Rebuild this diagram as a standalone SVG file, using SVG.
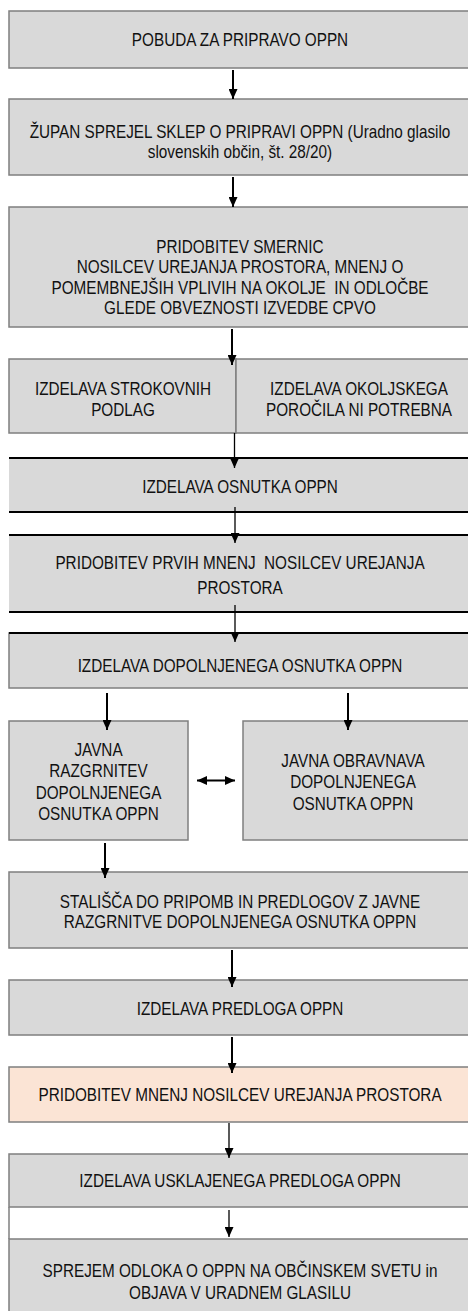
<svg xmlns="http://www.w3.org/2000/svg" width="468" height="1311" viewBox="0 0 468 1311">
<style>
.b{fill:#D9D9D9;stroke:#7F7F7F;stroke-width:1.5}
.p{fill:#FBE4D5;stroke:#7F7F7F;stroke-width:1.5}
.f{fill:#D9D9D9;stroke:none}
.k{stroke:#000;stroke-width:2.2}
.g{stroke:#7F7F7F;stroke-width:1.5}
.t{font-family:"Liberation Sans",Arial,sans-serif;font-size:18px;fill:#111;text-anchor:middle}
.c{stroke:#000;stroke-width:2;fill:none;marker-end:url(#ah)}
.c1{stroke:#000;stroke-width:1.3;fill:none;marker-end:url(#ah)}
</style>
<defs>
<marker id="ah" markerUnits="userSpaceOnUse" markerWidth="10" markerHeight="9" refX="10" refY="4.5" orient="auto-start-reverse">
<path d="M0,0 L10,4.5 L0,9 z" fill="#000"/>
</marker>
</defs>
<rect width="468" height="1311" fill="#fff"/>

<g id="n1"><rect class="b" x="9" y="11" width="470" height="57"/>
<text class="t" transform="translate(240,46) scale(0.85,1)">POBUDA ZA PRIPRAVO OPPN</text></g>

<g id="n2"><rect class="b" x="9" y="99" width="470" height="76"/>
<text class="t" transform="translate(240,138) scale(0.85,1)"><tspan x="0" y="0">ŽUPAN SPREJEL SKLEP O PRIPRAVI OPPN (Uradno glasilo</tspan><tspan x="0" y="20.5">slovenskih občin, št. 28/20)</tspan></text></g>

<g id="n3"><rect class="b" x="9" y="207" width="470" height="120"/>
<text class="t" transform="translate(240,253) scale(0.85,1)"><tspan x="0" y="0">PRIDOBITEV SMERNIC</tspan><tspan x="0" y="20.5">NOSILCEV UREJANJA PROSTORA, MNENJ O</tspan><tspan x="0" y="41">POMEMBNEJŠIH VPLIVIH NA OKOLJE &#160;IN ODLOČBE</tspan><tspan x="0" y="61.5">GLEDE OBVEZNOSTI IZVEDBE CPVO</tspan></text></g>

<g id="n4a"><rect class="b" x="9" y="359" width="227" height="74"/>
<text class="t" transform="translate(123,395) scale(0.85,1)"><tspan x="0" y="0">IZDELAVA STROKOVNIH</tspan><tspan x="0" y="21.5">PODLAG</tspan></text></g>
<g id="n4b"><rect class="b" x="236" y="359" width="246" height="74"/>
<text class="t" transform="translate(359,395) scale(0.85,1)"><tspan x="0" y="0">IZDELAVA OKOLJSKEGA</tspan><tspan x="0" y="21.5">POROČILA NI POTREBNA</tspan></text></g>

<g id="n5"><rect class="f" x="9" y="458" width="470" height="54"/>
<line class="k" x1="9" y1="458" x2="468" y2="458"/><line class="k" x1="9" y1="512" x2="468" y2="512"/>
<text class="t" transform="translate(240,493) scale(0.85,1)">IZDELAVA OSNUTKA OPPN</text></g>

<g id="n6"><rect class="f" x="9" y="535" width="470" height="77"/>
<line class="k" x1="9" y1="535" x2="468" y2="535"/><line class="k" x1="9" y1="612" x2="468" y2="612"/>
<text class="t" transform="translate(240,569) scale(0.85,1)"><tspan x="0" y="0">PRIDOBITEV PRVIH MNENJ &#160;NOSILCEV UREJANJA</tspan><tspan x="0" y="25">PROSTORA</tspan></text></g>

<g id="n7"><rect class="b" x="9" y="633" width="470" height="55"/>
<line class="k" x1="9" y1="633" x2="468" y2="633"/>
<text class="t" transform="translate(240,672) scale(0.85,1)">IZDELAVA DOPOLNJENEGA OSNUTKA OPPN</text></g>

<g id="n8"><rect class="b" x="9" y="721" width="179" height="119"/>
<text class="t" transform="translate(98.5,756) scale(0.85,1)"><tspan x="0" y="0">JAVNA</tspan><tspan x="0" y="21.3">RAZGRNITEV</tspan><tspan x="0" y="42.6">DOPOLNJENEGA</tspan><tspan x="0" y="64">OSNUTKA OPPN</tspan></text></g>

<g id="n9"><rect class="b" x="243" y="721" width="240" height="119"/>
<text class="t" transform="translate(353,767) scale(0.85,1)"><tspan x="0" y="0">JAVNA OBRAVNAVA</tspan><tspan x="0" y="21.5">DOPOLNJENEGA</tspan><tspan x="0" y="43">OSNUTKA OPPN</tspan></text></g>

<g id="n10"><rect class="b" x="9" y="872" width="470" height="76"/>
<text class="t" transform="translate(240,908) scale(0.85,1)"><tspan x="0" y="0">STALIŠČA DO PRIPOMB IN PREDLOGOV Z JAVNE</tspan><tspan x="0" y="20.5">RAZGRNITVE DOPOLNJENEGA OSNUTKA OPPN</tspan></text></g>

<g id="n11"><rect class="b" x="9" y="980" width="470" height="55"/>
<text class="t" transform="translate(240,1015) scale(0.85,1)">IZDELAVA PREDLOGA OPPN</text></g>

<g id="n12"><rect class="p" x="9" y="1067" width="470" height="55"/>
<text class="t" transform="translate(240,1101) scale(0.85,1)">PRIDOBITEV MNENJ NOSILCEV UREJANJA PROSTORA</text></g>

<g id="n13"><rect class="b" x="9" y="1154" width="470" height="53"/>
<text class="t" transform="translate(240,1187) scale(0.85,1)">IZDELAVA USKLAJENEGA PREDLOGA OPPN</text></g>

<g id="n14"><rect class="b" x="9" y="1239" width="470" height="80"/>
<line class="g" x1="9" y1="1207" x2="9" y2="1239"/>
<text class="t" transform="translate(240,1277) scale(0.85,1)"><tspan x="0" y="0">SPREJEM ODLOKA O OPPN NA OBČINSKEM SVETU in</tspan><tspan x="0" y="22">OBJAVA V URADNEM GLASILU</tspan></text></g>

<g id="connectors">
<line class="c" x1="233" y1="70" x2="233" y2="99"/>
<line class="c" x1="233" y1="177" x2="233" y2="207"/>
<line class="c" x1="232" y1="329" x2="232" y2="365"/>
<line class="c1" x1="234.5" y1="433" x2="234.5" y2="468"/>
<line class="c1" x1="235" y1="507" x2="235" y2="543"/>
<line class="c1" x1="235" y1="605" x2="235" y2="642"/>
<line class="c" x1="107" y1="693" x2="107" y2="730"/>
<line class="c" x1="348" y1="693" x2="348" y2="730"/>
<line class="c" style="marker-start:url(#ah)" x1="197" y1="780.5" x2="235" y2="780.5"/>
<line class="c" x1="105" y1="843" x2="105" y2="878"/>
<line class="c" x1="232" y1="950" x2="232" y2="987"/>
<line class="c" x1="232" y1="1037" x2="232" y2="1073"/>
<line class="c1" x1="229" y1="1123" x2="229" y2="1158"/>
<line class="c1" x1="229" y1="1210" x2="229" y2="1237"/>
</g>
</svg>
